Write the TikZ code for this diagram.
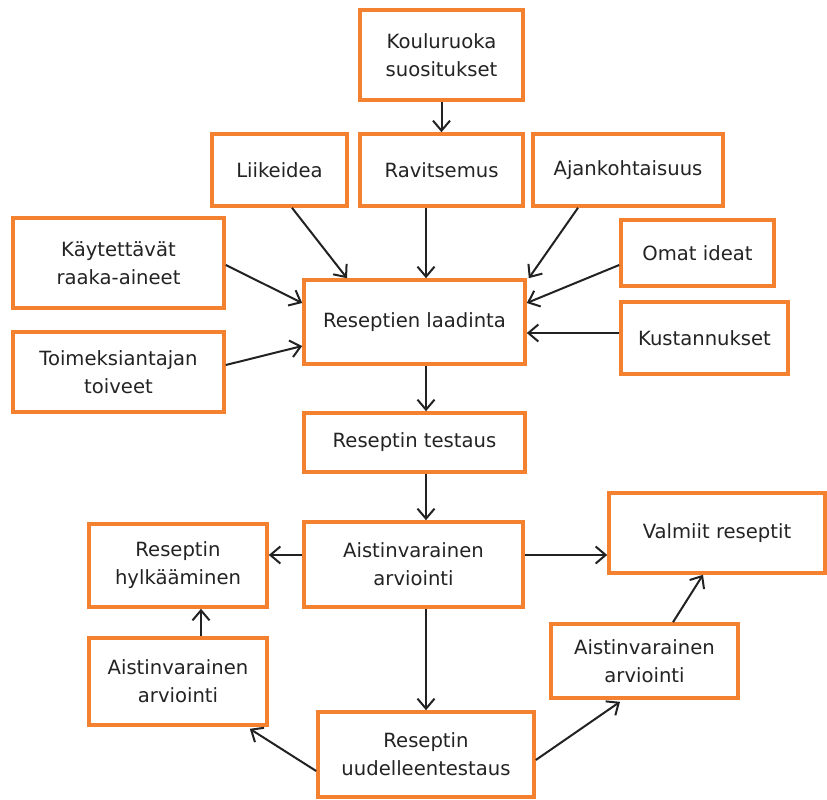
\documentclass[tikz,border=0pt]{standalone}
\usepackage{fontspec}
\setmainfont{DejaVu Sans}
\usetikzlibrary{arrows.meta,calc}
\definecolor{boxorange}{RGB}{244,129,47}
\definecolor{arrowgray}{RGB}{34,34,34}
\definecolor{txtgray}{RGB}{35,35,35}
\tikzset{
  box/.style={draw=boxorange, line width=3.6pt, fill=white, align=center,
    text=txtgray, inner sep=0pt, font=\fontsize{19.6}{28}\selectfont},
  flow/.style={draw=arrowgray, line width=2pt,
    -{Straight Barb[length=10pt,width=17pt]}}
}
\newcommand{\bx}[6]{% name, x1, y1, x2, y2, text
  \node[box, minimum width={(#4-#2)*1pt}, minimum height={(#5-#3)*1pt}]
    (#1) at ({(#2+#4)/2},{(#3+#5)/2}) {#6};}
\begin{document}
\begin{tikzpicture}[x=1pt,y=-1pt]
\useasboundingbox (0,0) rectangle (827,800);
\fill[white] (0,0) rectangle (827,800);
\bx{kou}{360}{10}{523}{100}{Kouluruoka\\suositukset}
\bx{lii}{212}{134}{347}{206}{Liikeidea}
\bx{rav}{360}{134}{523}{206}{Ravitsemus}
\bx{ajk}{533}{134}{723}{206}{Ajankohtaisuus}
\bx{kay}{13}{218}{224}{308}{Käytettävät\\raaka-aineet}
\bx{oma}{621}{220}{774}{286}{Omat ideat}
\bx{lad}{304}{280}{525}{364}{Reseptien laadinta}
\bx{kus}{621}{302}{788}{374}{Kustannukset}
\bx{toi}{13}{332}{224}{412}{Toimeksiantajan\\toiveet}
\bx{tes}{304}{413}{525}{472}{Reseptin testaus}
\bx{arv}{304}{522}{523}{607}{Aistinvarainen\\arviointi}
\bx{hyl}{89}{524}{267}{607}{Reseptin\\hylkääminen}
\bx{val}{609}{493}{825}{573}{Valmiit reseptit}
\bx{arl}{89}{638}{267}{725}{Aistinvarainen\\arviointi}
\bx{arr}{551}{624}{738}{698}{Aistinvarainen\\arviointi}
\bx{uud}{318}{712}{534}{797}{Reseptin\\uudelleentestaus}

\draw[flow] (kou.south) -- (kou.south |- rav.north);
\draw[flow] ([xshift=-15.5pt]rav.south) -- ([xshift=-15.5pt]rav.south |- lad.north);
\draw[flow] ([xshift=12.5pt]lii.south) -- ([xshift=-67.5pt]lad.north);
\draw[flow] ([xshift=-50pt]ajk.south) -- ([xshift=2pt]lad.north east);
\draw[flow] ([yshift=-12pt]oma.west) -- ([yshift=19pt]lad.east);
\draw[flow] ([yshift=5pt]kus.west) -- ([yshift=5pt]kus.west -| lad.east);
\draw[flow] ([yshift=-2pt]kay.east) -- ([yshift=19pt]lad.west);
\draw[flow] ([yshift=7pt]toi.east) -- ([yshift=-24pt]lad.west);
\draw[flow] ([xshift=11.5pt]lad.south) -- ([xshift=11.5pt]lad.south |- tes.north);
\draw[flow] ([xshift=11.5pt]tes.south) -- ([xshift=11.5pt]tes.south |- arv.north);
\draw[flow] (arv.south -| uud.north) -- (uud.north);
\draw[flow] ([yshift=9.5pt]arv.west) -- ([yshift=9.5pt]arv.west -| hyl.east);
\draw[flow] ([yshift=9.5pt]arv.east) -- ([yshift=9.5pt]arv.east -| val.west);
\draw[flow] ([xshift=23pt]arl.north) -- ([xshift=23pt]arl.north |- hyl.south);
\draw[flow] ([yshift=-16.5pt]uud.west) -- ([xshift=-19pt,yshift=-2pt]arl.south east);
\draw[flow] ([yshift=-5.5pt]uud.east) -- ([xshift=-24.5pt,yshift=-2pt]arr.south);
\draw[flow] ([xshift=28.5pt]arr.north) -- ([xshift=-14pt]val.south);
\end{tikzpicture}
\end{document}
